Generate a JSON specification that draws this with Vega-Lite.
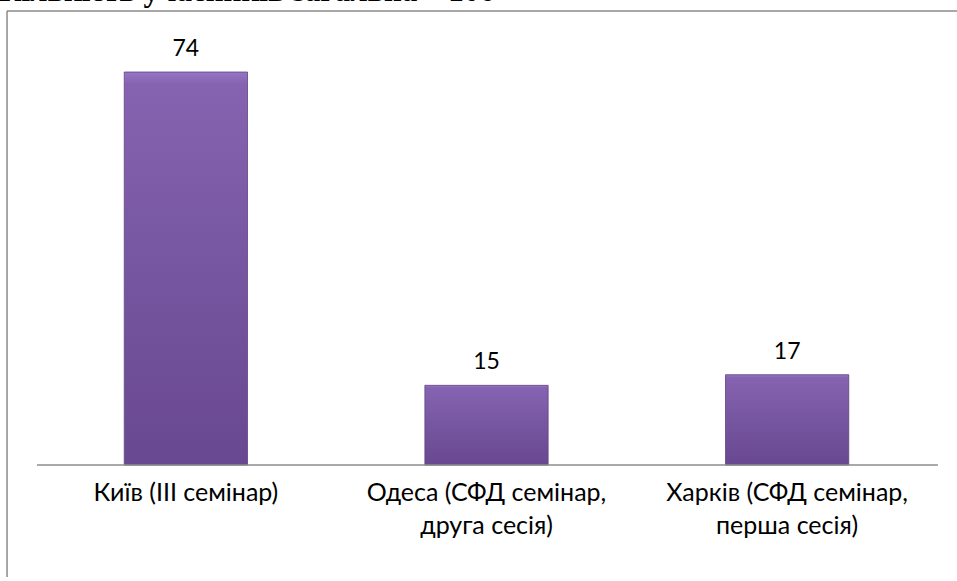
{
  "$schema": "https://vega.github.io/schema/vega-lite/v6.json",
  "autosize": {"type": "none"},
  "width": 950,
  "height": 566,
  "padding": {"left": 7, "top": 11, "right": 0, "bottom": 0},
  "background": "white",
  "title": {
    "text": "Кількість учасників загальна – 106",
    "anchor": "start",
    "frame": "group",
    "orient": "top",
    "baseline": "alphabetic",
    "offset": -22,
    "dx": -8,
    "font": "Liberation Serif",
    "fontSize": 31,
    "fontWeight": "bold",
    "color": "black"
  },
  "config": {
    "view": {"stroke": null},
    "font": "Lato"
  },
  "data": {
    "values": [
      {"place": "Київ (III семінар)", "count": 74},
      {"place": "Одеса (СФД семінар, друга сесія)", "count": 15},
      {"place": "Харків (СФД семінар, перша сесія)", "count": 17}
    ]
  },
  "layer": [
    {
      "mark": {
        "type": "bar",
        "color": {
          "gradient": "linear",
          "x1": 0, "y1": 0, "x2": 0, "y2": 1,
          "stops": [
            {"offset": 0, "color": "#9676C2"},
            {"offset": 0.03, "color": "#8563B0"},
            {"offset": 1, "color": "#684890"}
          ]
        },
        "stroke": "#5E4282",
        "strokeWidth": 0.8
      },
      "encoding": {
        "x": {
          "field": "place",
          "type": "nominal",
          "sort": null,
          "scale": {"paddingInner": 0.59, "paddingOuter": 0.375, "align": 0.52},
          "axis": {
            "orient": "bottom",
            "offset": -112,
            "domain": false,
            "ticks": false,
            "title": null,
            "labelAngle": 0,
            "labelFont": "Lato",
            "labelFontSize": 25,
            "labelColor": "black",
            "labelPadding": 15,
            "labelBaseline": "top",
            "labelLineHeight": 33,
            "labelLimit": 400,
            "labelExpr": "split(replace(datum.label, ', ', ',|'), '|')"
          }
        },
        "y": {
          "field": "count",
          "type": "quantitative",
          "scale": {"domain": [-21.09, 85.49], "nice": false, "zero": false},
          "axis": null
        }
      }
    },
    {
      "mark": {"type": "text", "baseline": "alphabetic", "dy": -16, "fontSize": 23, "font": "Lato", "color": "black"},
      "encoding": {
        "x": {"field": "place", "type": "nominal", "sort": null},
        "y": {"field": "count", "type": "quantitative"},
        "text": {"field": "count", "type": "quantitative"}
      }
    },
    {
      "data": {"values": [{}]},
      "mark": {"type": "rule", "color": "#8c8c8c", "strokeWidth": 1.5},
      "encoding": {
        "x": {"datum": "Київ (III семінар)", "bandPosition": -0.708},
        "x2": {"datum": "Харків (СФД семінар, перша сесія)", "bandPosition": 1.723},
        "y": {"datum": 0}
      }
    },
    {
      "data": {"values": [{}]},
      "mark": {"type": "rule", "color": "#8a8a8a", "strokeWidth": 1.5},
      "encoding": {
        "y": {"datum": 85.49}
      }
    },
    {
      "data": {"values": [{}]},
      "mark": {"type": "rule", "color": "#8a8a8a", "strokeWidth": 1.5},
      "encoding": {
        "x": {"datum": "Київ (III семінар)", "bandPosition": -0.951}
      }
    }
  ]
}
